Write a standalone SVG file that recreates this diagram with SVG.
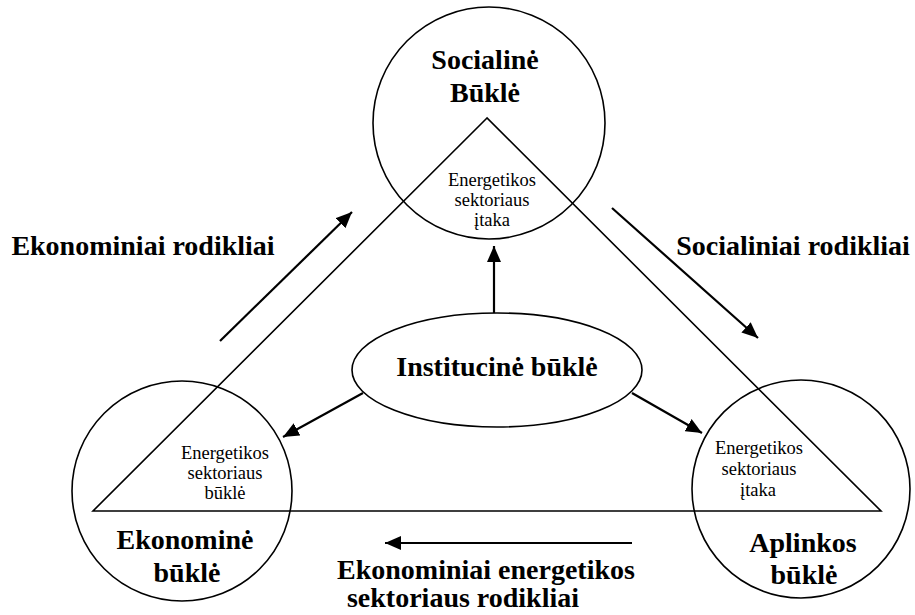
<svg xmlns="http://www.w3.org/2000/svg" width="915" height="615" viewBox="0 0 915 615">
<style>
.shape{fill:none;stroke:#000;stroke-width:1.6}
.arr{fill:none;stroke:#000;stroke-width:2.2;marker-end:url(#ah)}
.big{font-family:"Liberation Serif","Times New Roman",serif;font-weight:bold;font-size:28px;fill:#000;text-anchor:middle}
.small{font-family:"Liberation Serif","Times New Roman",serif;font-size:18.5px;fill:#000;text-anchor:middle}
</style>
<defs>
<marker id="ah" markerUnits="userSpaceOnUse" markerWidth="18" markerHeight="14" refX="16" refY="7" orient="auto">
<path d="M0,0 L16,7 L0,14 Z" fill="#000"/>
</marker>
</defs>
<rect width="915" height="615" fill="#fff"/>
<g id="triangle">
<polygon class="shape" points="487,118 93,511 881,511"/>
</g>
<g id="social">
<circle class="shape" cx="489" cy="123" r="116"/>
<text class="big" x="485" y="69">Socialinė</text>
<text class="big" x="485" y="102">Būklė</text>
<text class="small" x="492" y="186">Energetikos</text>
<text class="small" x="492" y="206">sektoriaus</text>
<text class="small" x="492" y="226">įtaka</text>
</g>
<g id="economic">
<circle class="shape" cx="182" cy="491" r="110"/>
<text class="small" x="225" y="459">Energetikos</text>
<text class="small" x="225" y="479">sektoriaus</text>
<text class="small" x="225" y="499">būklė</text>
<text class="big" x="185" y="549">Ekonominė</text>
<text class="big" x="187" y="582">būklė</text>
</g>
<g id="environment">
<circle class="shape" cx="801" cy="489" r="109"/>
<text class="small" x="759" y="454">Energetikos</text>
<text class="small" x="759" y="475">sektoriaus</text>
<text class="small" x="758" y="496">įtaka</text>
<text class="big" x="803" y="552">Aplinkos</text>
<text class="big" x="804" y="584">būklė</text>
</g>
<g id="institutional">
<ellipse class="shape" cx="497" cy="370" rx="145" ry="57"/>
<text class="big" x="497" y="376">Institucinė būklė</text>
</g>
<g id="connectors">
<line class="arr" x1="494" y1="313" x2="494" y2="246"/>
<line class="arr" x1="363" y1="393" x2="283" y2="437"/>
<line class="arr" x1="632" y1="393" x2="702" y2="433"/>
<line class="arr" x1="220" y1="341" x2="352" y2="212"/>
<line class="arr" x1="612" y1="208" x2="758" y2="338"/>
<line class="arr" x1="632" y1="543" x2="385" y2="543"/>
</g>
<g id="labels">
<text class="big" x="143" y="255">Ekonominiai rodikliai</text>
<text class="big" x="793" y="255">Socialiniai rodikliai</text>
<text class="big" x="486" y="579">Ekonominiai energetikos</text>
<text class="big" x="463" y="607">sektoriaus rodikliai</text>
</g>
</svg>
